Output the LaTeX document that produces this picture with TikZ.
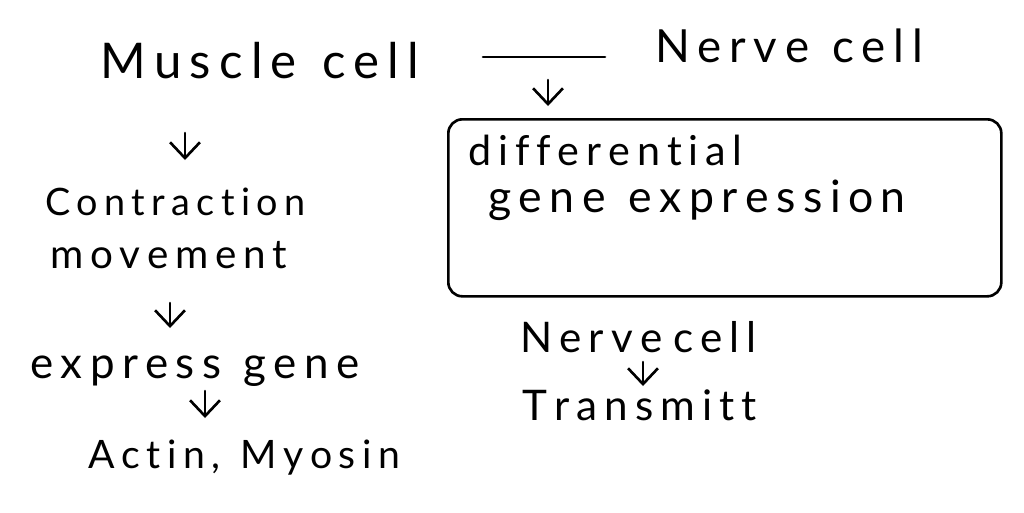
\documentclass[tikz,border=0pt]{standalone}
\usepackage{fontspec}
\setmainfont{Lato}
\usetikzlibrary{arrows.meta}
\begin{document}
\begin{tikzpicture}[x=0.02cm,y=-0.02cm,
  txt/.style={anchor=base west,inner sep=0pt,font=\fontsize{#1}{#1}\selectfont},
  txt/.default=26,
  ink/.style={line width=1.5pt,line cap=round,line join=round},
  arr/.style={ink,-{Straight Barb[length=9pt,width=17pt,line width=1.5pt]}}]
\useasboundingbox (0,0) rectangle (1024,512);
% left column
\node[txt=28] (muscle) at (100,78) {M\,u\,s\,c\,l\,e\ \ c\,e\,l\,l};
\node[txt=21.5] (contr) at (45,215) {C\,o\,n\,t\,r\,a\,c\,t\,i\,o\,n};
\node[txt=23] (move) at (50,268) {m\,o\,v\,e\,m\,e\,n\,t};
\node[txt=25] (expr) at (30,378) {e\,x\,p\,r\,e\,s\,s\ \ g\,e\,n\,e};
\node[txt=22.3] (actin) at (88,468) {A\,c\,t\,i\,n\,,\ \ M\,y\,o\,s\,i\,n};
% right column
\node[txt=26] (nerve) at (655,62) {N\,e\,r\,v\,e\ \ c\,e\,l\,l};
\node[txt=23.5] (diff) at (468,165) {d\,i\,f\,f\,e\,r\,e\,n\,t\,i\,a\,l};
\node[txt=25.4] (gene) at (488,212) {g\,e\,n\,e\ \ e\,x\,p\,r\,e\,s\,s\,i\,o\,n};
\node[ink,draw,rounded corners=8pt,minimum width=553*0.02cm,minimum height=177*0.02cm,anchor=north west] (box) at (447,118) {};
\node[txt=24] (nerve2) at (520,352) {N\,e\,r\,v\,e\ c\,e\,l\,l};
\node[txt=24] (trans) at (522,420) {T\,r\,a\,n\,s\,m\,i\,t\,t};
% connector end points
\coordinate (dashL) at (483,57);
\coordinate (dashR) at (605,57);
\coordinate (a0s) at (548,80);  \coordinate (a0e) at (548,106);
\coordinate (a1s) at (185,133); \coordinate (a1e) at (185,160);
\coordinate (a2s) at (170,303); \coordinate (a2e) at (170,328);
\coordinate (a3s) at (205,391); \coordinate (a3e) at (205,418);
\coordinate (a4s) at (643,362); \coordinate (a4e) at (643,386);
% connectors
\draw[ink] (dashL) -- (dashR);
\draw[arr] (a0s) -- (a0e);
\draw[arr] (a1s) -- (a1e);
\draw[arr] (a2s) -- (a2e);
\draw[arr] (a3s) -- (a3e);
\draw[arr] (a4s) -- (a4e);
\end{tikzpicture}
\end{document}
